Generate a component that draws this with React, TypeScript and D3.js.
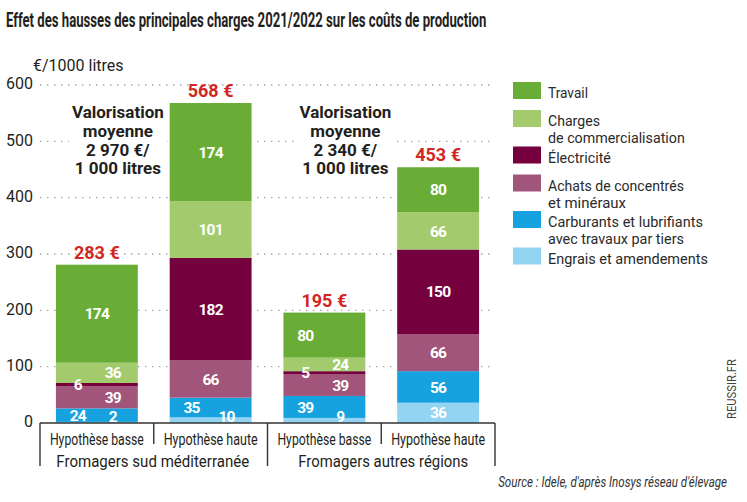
import React, { useLayoutEffect, useRef, useState } from 'react';
import * as d3 from 'd3';

// ---------- DATA ----------
const categories = ['Hypothèse basse', 'Hypothèse haute', 'Hypothèse basse', 'Hypothèse haute'];
const groups = ['Fromagers sud méditerranée', 'Fromagers autres régions'];
const engrais = [2, 10, 9, 36];
const carburants = [24, 35, 39, 56];
const achats = [39, 66, 39, 66];
const electricite = [6, 182, 5, 150];
const charges = [36, 101, 24, 66];
const travail = [174, 174, 80, 80];
const totals = [283, 568, 195, 453];
const valorisation = ['2 970', '2 340'];
const yTicks = [0, 100, 200, 300, 400, 500, 600];
const seriesKeys = ['engrais', 'carburants', 'achats', 'electricite', 'charges', 'travail'];
const legendKeys = ['travail', 'charges', 'electricite', 'achats', 'carburants', 'engrais'];
const legendLines: Record<string, string[]> = {
  travail: ['Travail'],
  charges: ['Charges', 'de commercialisation'],
  electricite: ['Électricité'],
  achats: ['Achats de concentrés', 'et minéraux'],
  carburants: ['Carburants et lubrifiants', 'avec travaux par tiers'],
  engrais: ['Engrais et amendements'],
};

// ---------- STYLE ----------
const colors: Record<string, string> = {
  travail: '#6aad36',
  charges: '#a3cb6e',
  electricite: '#74003d',
  achats: '#a2557b',
  carburants: '#16a1df',
  engrais: '#94d4f3',
};
const labelSide: Record<string, string[]> = {
  engrais: ['r', 'r', 'r', 'c'],
  carburants: ['l', 'l', 'l', 'c'],
  achats: ['r', 'c', 'r', 'c'],
  electricite: ['l', 'c', 'l', 'c'],
  charges: ['r', 'c', 'r', 'c'],
  travail: ['c', 'c', 'l', 'c'],
};
const legendWidths: Record<string, number> = {
  'Travail': 40,
  'Charges': 52,
  'de commercialisation': 137,
  'Électricité': 63,
  'Achats de concentrés': 136,
  'et minéraux': 78,
  'Carburants et lubrifiants': 155,
  'avec travaux par tiers': 136,
  'Engrais et amendements': 160,
};
const FONT = 'Roboto, "DejaVu Sans", sans-serif';
const DARK = '#231f20';
const RED = '#d3261f';

// Text horizontally scaled to a target width (condensed look)
function FitText(props: any) {
  const { x, y, width, anchor = 'start', rotate = 0, children, ...rest } = props;
  const ref = useRef<SVGTextElement>(null);
  const [s, setS] = useState(1);
  useLayoutEffect(() => {
    if (ref.current) {
      const w = ref.current.getComputedTextLength();
      if (w > 0) setS(width / w);
    }
  }, [width, children]);
  return (
    <text
      ref={ref}
      transform={`translate(${x},${y}) rotate(${rotate}) scale(${s},1)`}
      textAnchor={anchor}
      {...rest}
    >
      {children}
    </text>
  );
}

export default function App() {
  const W = 747, H = 502;
  const x = d3
    .scaleBand<number>()
    .domain(d3.range(categories.length))
    .range([40, 495])
    .paddingInner(0.28)
    .paddingOuter(0.14);
  const y = d3.scaleLinear().domain([0, 600]).range([423, 85]);

  const table = categories.map((c, i) => ({
    i,
    engrais: engrais[i],
    carburants: carburants[i],
    achats: achats[i],
    electricite: electricite[i],
    charges: charges[i],
    travail: travail[i],
  }));
  const stacked = d3.stack<any>().keys(seriesKeys)(table);
  const tops = categories.map((_, i) => stacked[stacked.length - 1][i][1]);

  const step = x.step();
  const bounds = d3.range(categories.length + 1).map((k) => 40 + k * step);

  // legend positions
  let ly = 82;
  const legendItems = legendKeys.map((k) => {
    const item = { k, y: ly, lines: legendLines[k] };
    ly += legendLines[k].length === 1 ? 28 : 36.5;
    return item;
  });

  return (
    <svg
      width={W}
      height={H}
      style={{ position: 'absolute', left: 0, top: 0, background: '#fff' }}
      fontFamily={FONT}
    >
      <rect width={W} height={H} fill="#fff" />
      {/* Title */}
      <FitText x={6} y={27} width={481} fontSize={20} fontWeight={700} fill={DARK}>
        Effet des hausses des principales charges 2021/2022 sur les coûts de production
      </FitText>
      {/* Unit */}
      <text x={33} y={70.7} fontSize={16} fill={DARK}>
        €/1000 litres
      </text>

      {/* grid */}
      {yTicks.filter((t) => t > 0).map((t) => (
        <line key={t} x1={40} x2={492} y1={y(t)} y2={y(t)} stroke="#a0a0a0" strokeWidth={1.4} strokeDasharray="1.4 5.6" />
      ))}
      {yTicks.map((t) => (
        <text key={t} x={33} y={y(t) + 4.3} fontSize={16} fill={DARK} textAnchor="end">
          {t}
        </text>
      ))}

      {/* annotations */}
      {valorisation.map((v, g) => {
        const cx = (x(g * 2) as number) + x.bandwidth() / 2 + 21;
        const lines = ['Valorisation', 'moyenne', `${v} €/`, '1 000 litres'];
        return (
          <g key={g}>
            <rect x={cx - 49} y={102} width={98} height={78} fill="#fff" />
            {lines.map((l, j) => (
              <text key={j} x={cx} y={118 + j * 18.8} fontSize={17} fontWeight={700} fill={DARK} textAnchor="middle">
                {l}
              </text>
            ))}
          </g>
        );
      })}

      {/* bars */}
      {stacked.map((s) => (
        <g key={s.key} fill={colors[s.key]}>
          {s.map((d, i) => (
            <rect
              key={i}
              x={x(i)}
              width={x.bandwidth()}
              y={y(d[1])}
              height={y(d[0]) - y(d[1])}
            />
          ))}
        </g>
      ))}

      {/* segment labels */}
      {stacked.map((s) =>
        s.map((d, i) => {
          const side = labelSide[s.key][i];
          const c = (x(i) as number) + x.bandwidth() / 2;
          const lx = side === 'l' ? c - 19 : side === 'r' ? c + 16 : c;
          const cy = Math.min((y(d[0]) + y(d[1])) / 2, y(0) - 7);
          return (
            <text
              key={s.key + i}
              x={lx}
              y={cy + 5.6}
              fontSize={15.5}
              fontWeight={700}
              fill="#fff"
              textAnchor="middle"
              letterSpacing={-0.8}
            >
              {d[1] - d[0]}
            </text>
          );
        })
      )}

      {/* totals */}
      {totals.map((t, i) => {
        const c = (x(i) as number) + x.bandwidth() / 2;
        return (
          <text key={i} x={c} y={y(tops[i]) - 6} fontSize={18} fontWeight={700} fill={RED} textAnchor="middle">
            {`${t} €`}
          </text>
        );
      })}

      {/* x axis */}
      <line x1={40} x2={495} y1={y(0)} y2={y(0)} stroke="#333" strokeWidth={1.6} />
      {bounds.map((b, k) => (
        <line
          key={k}
          x1={b}
          x2={b}
          y1={y(0)}
          y2={k % 2 === 0 ? 466 : 444}
          stroke="#333"
          strokeWidth={1.4}
        />
      ))}
      {categories.map((c, i) => (
        <FitText
          key={i}
          x={(x(i) as number) + x.bandwidth() / 2}
          y={445}
          width={94}
          anchor="middle"
          fontSize={17}
          fill={DARK}
        >
          {c}
        </FitText>
      ))}
      {groups.map((g, k) => (
        <FitText
          key={k}
          x={(bounds[k * 2] + bounds[k * 2 + 2]) / 2 + (k === 1 ? 2 : -1)}
          y={466.5}
          width={k === 0 ? 193 : 170}
          anchor="middle"
          fontSize={16.5}
          fill={DARK}
        >
          {g}
        </FitText>
      ))}

      {/* legend */}
      {legendItems.map((it) => (
        <g key={it.k}>
          <rect x={513} y={it.y} width={28} height={17} fill={colors[it.k]} />
          {it.lines.map((l, j) => (
            <FitText
              key={j}
              x={548}
              y={it.y + 16 + j * 17}
              width={legendWidths[l]}
              fontSize={15.5}
              fontWeight={400}
              fill="#2a2a2a"
            >
              {l}
            </FitText>
          ))}
        </g>
      ))}

      {/* credit */}
      <FitText x={736} y={389} rotate={-90} width={60} anchor="middle" fontSize={12} fill="#444">
        REUSSIR.FR
      </FitText>
      <FitText x={727} y={487} width={229} anchor="end" fontSize={14} fontStyle="italic" fill="#333">
        Source : Idele, d'après Inosys réseau d'élevage
      </FitText>
    </svg>
  );
}
